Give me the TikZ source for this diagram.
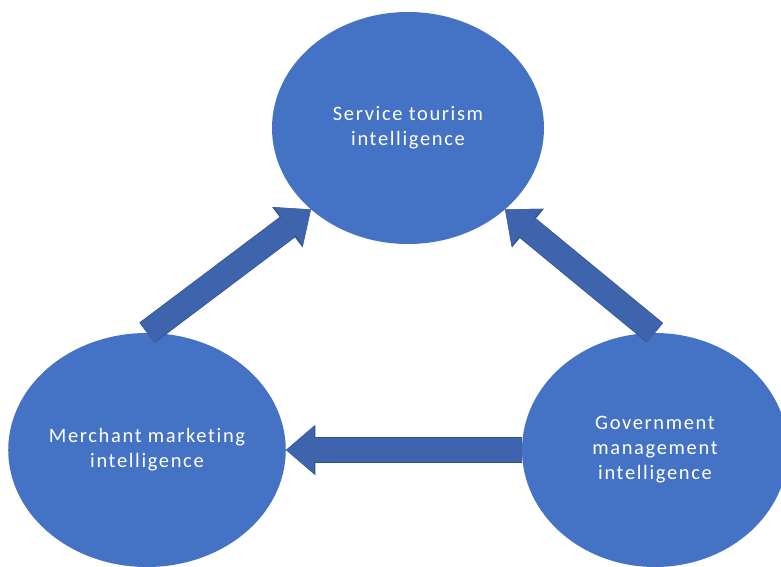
\documentclass[tikz,border=0pt]{standalone}
\usepackage{fontspec}
\setmainfont{Carlito}
\newfontfamily\bubblefont[LetterSpace=8, Ligatures=NoCommon]{Carlito}
\usetikzlibrary{shapes.geometric,arrows.meta}
\definecolor{bubbleblue}{RGB}{68,114,196}
\definecolor{arrowfill}{RGB}{61,100,172}
\definecolor{arrowedge}{RGB}{47,82,143}

\begin{document}
\begin{tikzpicture}[
    x=1pt, y=1pt,
    bubble/.style={ellipse, fill=bubbleblue, text=white, inner sep=0pt,
        minimum width=270pt, minimum height=234pt, align=center,
        font=\bubblefont\fontsize{20.5}{25}\selectfont},
    flow/.style={draw=arrowfill, line width=24pt,
        -{Triangle[width=48pt, length=28pt, line width=0pt]},
        preaction={draw=arrowedge, line width=25.5pt,
            -{Triangle[width=50.5pt, length=29.5pt, line width=0pt]}}}
]
    \useasboundingbox (0,0) rectangle (781,566);
    \clip (0,0) rectangle (781,566);

    \node[bubble, minimum width=272pt, minimum height=232pt] (serv) at (408,438) {Service tourism\\intelligence};
    \node[bubble] (merch) at (147,116) {Merchant marketing\\intelligence};
    \node[bubble, minimum width=266pt] (gov) at (655,116) {Government\\management\\intelligence};

    \draw[flow] (merch.north) -- (serv.220);
    \draw[flow] (gov.north) -- (serv.320);
    \draw[flow] (gov.west) -- (merch.east);
\end{tikzpicture}
\end{document}
